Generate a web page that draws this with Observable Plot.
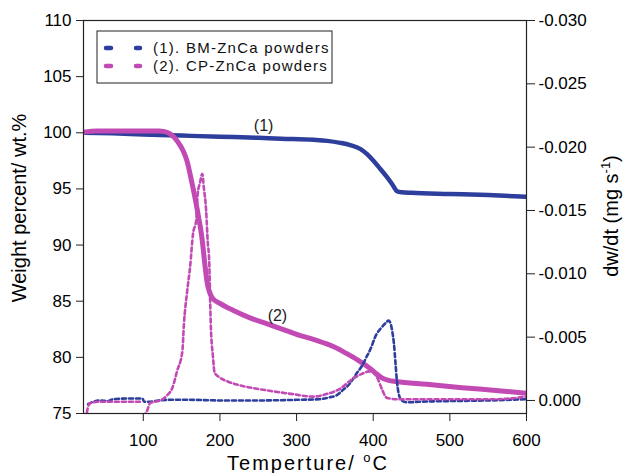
<!DOCTYPE html>
<html><head><meta charset="utf-8">
<script src="https://cdn.jsdelivr.net/npm/d3@7"></script>
<script src="https://cdn.jsdelivr.net/npm/@observablehq/plot@0.6"></script>
<style>body{margin:0;background:#fff;} svg{display:block}</style>
</head><body><div id="chart"></div>
<script>
// ---- data ----
const xTicks = [100, 200, 300, 400, 500, 600];
const leftTicks = [75, 80, 85, 90, 95, 100, 105, 110];
const rightTicks = [-0.030, -0.025, -0.020, -0.015, -0.010, -0.005, 0.000];
const seriesNames = ["(1). BM-ZnCa powders", "(2). CP-ZnCa powders"];

// TG, BM-ZnCa (1)
const bmTgTemp   = [22, 60, 100, 150, 200, 250, 280, 322, 340, 357, 370, 383, 392, 400, 409, 418, 425, 431, 437, 450, 500, 550, 600];
const bmTgWeight = [100.0, 99.95, 99.85, 99.75, 99.65, 99.55, 99.47, 99.37, 99.28, 99.1, 98.9, 98.57, 98.1, 97.53, 96.8, 96.05, 95.4, 94.8, 94.7, 94.65, 94.55, 94.45, 94.3];

// TG, CP-ZnCa (2)
const cpTgTemp   = [22, 40, 80, 120, 128, 135, 144, 152, 157, 163, 170, 177, 180, 183, 190, 200, 217, 240, 261, 282, 304, 320, 335, 350, 365, 380, 396, 405, 412, 420, 430, 470, 516, 560, 600];
const cpTgWeight = [100.05, 100.15, 100.15, 100.15, 100.1, 99.9, 99.3, 98.4, 97.5, 95.7, 93.3, 90.4, 88.5, 86.8, 85.3, 84.8, 84.2, 83.5, 83.0, 82.5, 81.95, 81.65, 81.3, 80.9, 80.35, 79.75, 79.0, 78.5, 78.15, 77.95, 77.85, 77.6, 77.3, 77.05, 76.8];

// DTG, BM-ZnCa (1)
const bmDtgTemp = [28, 35, 45, 53, 61, 80, 99, 101, 109, 120, 135, 160, 200, 250, 300, 330, 343, 352, 360, 369, 378, 386, 391, 396, 404, 410, 416, 420, 423, 425, 427, 429, 431, 433, 437, 444, 460, 500, 550, 600];
const bmDtgRate = [0.0003, 0.0001, 0.0, 0.00005, -0.0001, -0.00015, -0.00015, 0.0001, 0.0001, 0.0, -0.00005, -0.00005, 0.0, 0.0, -0.00005, -0.0001, -0.00025, -0.0004, -0.0008, -0.0013, -0.0021, -0.0028, -0.0034, -0.0040, -0.0052, -0.0057, -0.0061, -0.0063, -0.0060, -0.0054, -0.0045, -0.0030, -0.0015, -0.0006, 0.0, 0.00015, 0.0001, 0.00005, 0.0, -0.0001];

// DTG, CP-ZnCa (2)  (null = gap in the record)
const cpDtgTemp = [25, 28, 31, 44, 60, 80, 99, 99.5, 100, 102, 105, 109, 115, 122, 131, 138, 144, 151, 153, 157, 161, 165, 169, 171, 174, 177, 179, 182, 184, 186, 188, 191, 193, 200, 210, 226, 261, 295, 321, 339, 356, 373, 385, 395, 400, 406, 412, 418, 430, 470, 520, 560, 600];
const cpDtgRate = [0.0015, 0.0005, 0.0002, 0.0001, 0.0001, 0.0001, 0.0001, null, 0.0013, 0.0011, 0.0008, 0.0002, 0.0001, 0.0, -0.0004, -0.001, -0.0023, -0.0039, -0.006, -0.0085, -0.0105, -0.0132, -0.0142, -0.0163, -0.0172, -0.0179, -0.0168, -0.015, -0.0126, -0.011, -0.0061, -0.0034, -0.0022, -0.0018, -0.0015, -0.0012, -0.0008, -0.0005, -0.0003, -0.0005, -0.0009, -0.0017, -0.0021, -0.0023, -0.0022, -0.0017, -0.0008, -0.0002, -0.0001, -0.0001, -0.0001, -0.0001, -0.0003];

// curve labels (temperature, weight %)
const noteText = ["(1)", "(2)"];
const noteTemp = [257, 275];
const noteWeight = [100.6, 83.7];

// ---- layout / styles ----
const W = 627, H = 473;
const mL = 83, mR = 101, mT = 20, mB = 60;
const blue = "#2d3e9c", magenta = "#c24ab4";
const font = "'Liberation Sans', Arial, Helvetica, sans-serif";

const leftDomain = [75, 110];
const rateTop = -0.030, rateBottom = 0.00103; // right axis range mapped onto left
const toLeft = d => leftDomain[0] + (d - rateBottom) / (rateTop - rateBottom) * (leftDomain[1] - leftDomain[0]);
const fromLeft = v => rateBottom + (v - leftDomain[0]) / (leftDomain[1] - leftDomain[0]) * (rateTop - rateBottom);
const fmtRate = v => { let d = Math.round(fromLeft(v) * 1000) / 1000; if (Math.abs(d) < 1e-9) d = 0; return (d < 0 ? "-" : "") + Math.abs(d).toFixed(3); };

const mk = (xs, ys) => xs.map((x, i) => ({x, y: ys[i]}));
const bmTg = mk(bmTgTemp, bmTgWeight);
const cpTg = mk(cpTgTemp, cpTgWeight);
const bmDtg = mk(bmDtgTemp, bmDtgRate.map(d => d == null ? NaN : toLeft(d)));
const cpDtg = mk(cpDtgTemp, cpDtgRate.map(d => d == null ? NaN : toLeft(d)));
const notes = noteText.map((t, i) => ({t, x: noteTemp[i], y: noteWeight[i]}));

const chart = Plot.plot({
  width: W, height: H,
  marginLeft: mL, marginRight: mR, marginTop: mT, marginBottom: mB,
  x: {domain: [22, 600]},
  y: {domain: leftDomain},
  style: {fontFamily: font, fontSize: "17px", color: "#000", background: "#fff", overflow: "visible"},
  marks: [
    Plot.line(bmTg, {x: "x", y: "y", stroke: blue, strokeWidth: 4.5, curve: "monotone-x", clip: true}),
    Plot.line(cpTg, {x: "x", y: "y", stroke: magenta, strokeWidth: 5, curve: "monotone-x", clip: true}),
    Plot.line(bmDtg, {x: "x", y: "y", stroke: blue, strokeWidth: 2.6, strokeDasharray: "4,3", curve: "monotone-x", clip: true}),
    Plot.line(cpDtg, {x: "x", y: "y", stroke: magenta, strokeWidth: 2.6, strokeDasharray: "4,3", curve: "monotone-x", clip: true}),
    Plot.text(notes, {x: "x", y: "y", text: "t", fontSize: 16, fill: "#222"}),
    Plot.axisX(xTicks, {tickSize: 8, tickPadding: 12, label: null, stroke: "#222", letterSpacing: "0.6px"}),
    Plot.axisY(leftTicks, {anchor: "left", tickSize: 7, tickPadding: 5, label: null, stroke: "#222", letterSpacing: "0.6px"}),
    Plot.axisY(rightTicks.map(toLeft), {anchor: "right", tickSize: 8, tickPadding: 4, label: null, tickFormat: fmtRate, stroke: "#222", letterSpacing: "0.6px"}),
    Plot.frame({stroke: "#222", strokeWidth: 1.2})
  ]
});
document.getElementById("chart").appendChild(chart);

// ---- axis titles and legend ----
const svg = d3.select(chart);
const xt = svg.append("text").attr("x", 308).attr("y", 470).attr("text-anchor", "middle")
  .attr("font-family", font).attr("font-size", 20).attr("letter-spacing", "2px").attr("fill", "#000");
xt.append("tspan").text("Temperture/ ");
xt.append("tspan").attr("font-size", 13).attr("dy", -8).text("o");
xt.append("tspan").attr("dy", 8).text("C");

svg.append("text").attr("transform", "translate(26,208) rotate(-90)").attr("text-anchor", "middle")
  .attr("font-family", font).attr("font-size", 20).attr("fill", "#000").text("Weight percent/ wt.%");

const rt = svg.append("text").attr("transform", "translate(618,216) rotate(-90)").attr("text-anchor", "middle")
  .attr("font-family", font).attr("font-size", 20).attr("fill", "#000");
rt.append("tspan").text("dw/dt (mg s");
rt.append("tspan").attr("font-size", 13).attr("dy", -8).text("-1");
rt.append("tspan").attr("dy", 8).text(")");

const lg = svg.append("g");
lg.append("rect").attr("x", 97).attr("y", 31).attr("width", 235).attr("height", 52)
  .attr("fill", "#fff").attr("stroke", "#222").attr("stroke-width", 1);
[blue, magenta].forEach((c, i) => {
  const yy = 48 + i * 18;
  lg.append("line").attr("x1", 106).attr("x2", 140).attr("y1", yy).attr("y2", yy)
    .attr("stroke", c).attr("stroke-width", 4.5).attr("stroke-linecap", "round").attr("stroke-dasharray", "5,25");
  lg.append("text").attr("x", 153).attr("y", yy + 5).attr("text-anchor", "start")
    .attr("font-family", font).attr("font-size", 15)
    .attr("letter-spacing", "1.25px").attr("fill", "#111").text(seriesNames[i]);
});
</script></body></html>
